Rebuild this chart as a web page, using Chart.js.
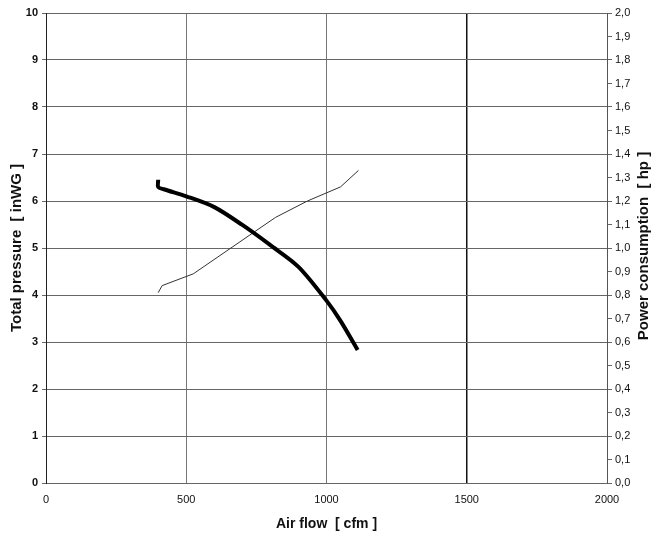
<!DOCTYPE html>
<html lang="en">
<head>
    <meta charset="UTF-8">
    <title>Fan curve</title>
    <style>
        html, body { margin: 0; padding: 0; background: #fff; }
        #wrap { width: 654px; height: 537px; }
    </style>
</head>
<body>
    <div id="wrap"><canvas id="fanChart" width="654" height="537"></canvas></div>
    <script src="https://cdn.jsdelivr.net/npm/chart.js@4.4.1/dist/chart.umd.min.js"></script>
    <script>
        // pressure curve (thick line)
        var pressureFlow = [400, 400, 420, 500, 600, 700, 800, 900, 1000, 1050, 1111];
        var pressureVals = [6.45, 6.3, 6.25, 6.1, 5.87, 5.49, 5.06, 4.6, 3.88, 3.45, 2.83];

        // power curve (thin line)
        var powerFlow = [400, 414, 525, 818, 932, 1050, 1114];
        var powerVals = [0.81, 0.84, 0.89, 1.13, 1.2, 1.26, 1.33];

        var xTicks = [0, 500, 1000, 1500, 2000];
        var rightTitle = 'Power consumption  [ hp ]';

        function toPoints(xs, ys) {
            return xs.map(function (x, i) { return { x: x, y: ys[i] }; });
        }

        // right axis title reads bottom-to-top like the left one
        var rightTitlePlugin = {
            id: 'rightTitle',
            afterDraw: function (chart) {
                var c = chart.ctx, area = chart.chartArea;
                c.save();
                c.translate(644, (area.top + area.bottom) / 2 - 2);
                c.rotate(-Math.PI / 2);
                c.font = 'bold 15px "Liberation Sans"';
                c.fillStyle = '#111';
                c.textAlign = 'center';
                c.textBaseline = 'middle';
                c.fillText(rightTitle, 0, 0);
                c.restore();
            }
        };

        var ctx = document.getElementById('fanChart').getContext('2d');
        new Chart(ctx, {
            type: 'line',
            data: {
                datasets: [
                    {
                        label: 'Total pressure',
                        data: toPoints(pressureFlow, pressureVals),
                        yAxisID: 'y',
                        borderColor: '#000',
                        borderWidth: 4,
                        pointRadius: 0,
                        tension: 0.3,
                        borderCapStyle: 'butt'
                    },
                    {
                        label: 'Power consumption',
                        data: toPoints(powerFlow, powerVals),
                        yAxisID: 'y2',
                        borderColor: '#333',
                        borderWidth: 1,
                        pointRadius: 0,
                        tension: 0
                    }
                ]
            },
            options: {
                responsive: false,
                animation: false,
                layout: { padding: { top: 13, left: 8, right: 0, bottom: 0 } },
                plugins: { legend: { display: false }, tooltip: { enabled: false } },
                scales: {
                    x: {
                        type: 'linear',
                        min: 0, max: 2000,
                        afterBuildTicks: function (s) { s.ticks = xTicks.map(function (v) { return { value: v }; }); },
                        afterFit: function (s) { s.height = 54; },
                        grid: {
                            color: function (c) { return c.tick && c.tick.value === 1500 ? '#111' : '#777'; },
                            lineWidth: function (c) { return c.tick && c.tick.value === 1500 ? 1.5 : 1; },
                            drawTicks: false
                        },
                        border: { display: false },
                        ticks: {
                            color: '#111', font: { family: 'Liberation Sans', size: 11 }, padding: 10, maxRotation: 0,
                            callback: function (v) { return String(v); }
                        },
                        title: { display: true, text: 'Air flow  [ cfm ]', color: '#111', font: { family: 'Liberation Sans', size: 14, weight: 'bold' }, padding: { top: 1 } }
                    },
                    y: {
                        position: 'left',
                        min: 0, max: 10,
                        afterFit: function (s) { s.width = 38; },
                        ticks: { stepSize: 1, color: '#111', font: { family: 'Liberation Sans', size: 11, weight: 'bold' }, padding: 4 },
                        grid: { color: '#666', tickLength: 4 },
                        border: { color: '#222', width: 1 },
                        title: { display: true, text: 'Total pressure  [ inWG ]', color: '#111', font: { family: 'Liberation Sans', size: 15, weight: 'bold' }, padding: 0 }
                    },
                    y2: {
                        position: 'right',
                        min: 0, max: 2,
                        afterFit: function (s) { s.width = 47; },
                        ticks: {
                            stepSize: 0.1, color: '#111', padding: 3,
                            font: { family: 'Liberation Sans', size: 11 },
                            callback: function (v) { return v.toFixed(1).replace('.', ','); }
                        },
                        grid: { drawOnChartArea: false, color: '#666', tickLength: 5 },
                        border: { color: '#555', width: 1 }
                    }
                }
            },
            plugins: [rightTitlePlugin]
        });
    </script>
</body>
</html>
